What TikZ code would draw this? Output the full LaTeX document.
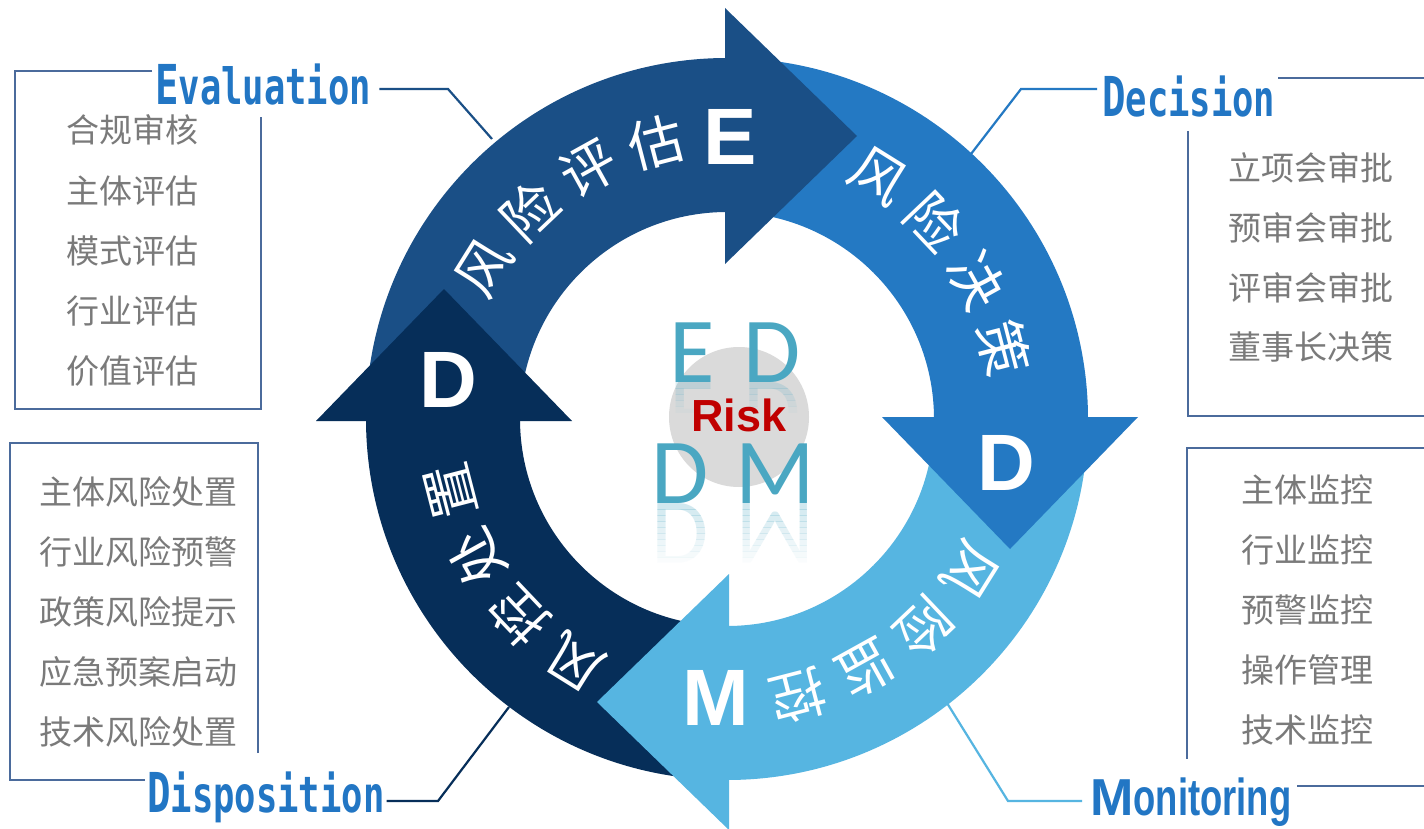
\documentclass[tikz,border=0pt]{standalone}
\usepackage{graphicx}
\usepackage{fontspec}
\setmainfont{Liberation Sans}
\newfontfamily\cjk{Noto Sans CJK SC}
\newfontfamily\monof{DejaVu Sans Mono}
\newfontfamily\carl{Carlito}
\definecolor{cE}{HTML}{1A4F86}
\definecolor{cDec}{HTML}{2479C3}
\definecolor{cMon}{HTML}{56B5E1}
\definecolor{cDis}{HTML}{062E59}
\definecolor{lblblue}{HTML}{2276C4}
\definecolor{boxblue}{HTML}{4B6B9C}
\definecolor{listgrey}{HTML}{7A7A7A}
\definecolor{teal}{HTML}{4AA7C2}
\definecolor{circgrey}{HTML}{DADADA}
\definecolor{riskred}{HTML}{C00000}
\begin{document}
\begin{tikzpicture}[x=1pt,y=-1pt,
  ringtxt/.style={text=white, font=\cjk\fontsize{55}{55}\selectfont, inner sep=0pt},
  bigletter/.style={text=white, font=\bfseries\fontsize{80}{80}\selectfont, inner sep=0pt},
  listtxt/.style={text=listgrey, font=\cjk\fontsize{33}{40}\selectfont, inner sep=0pt, anchor=west},
  boxline/.style={draw=boxblue, line width=2pt},
  lbl/.style={text=lblblue, inner sep=0pt, anchor=base west},
  conn/.style={line width=2.2pt},
  ctr/.style={text=teal, font=\carl\fontsize{93}{93}\selectfont, inner sep=0pt}
]
\useasboundingbox (0,0) rectangle (1424,829);
\fill[white] (0,0) rectangle (1424,829);

% ---------- side labels ----------
\node[lbl, font=\monof\bfseries] (evalLbl) at (155,105)
  {\scalebox{0.71}[1]{\fontsize{55}{55}\selectfont E\fontsize{50}{50}\selectfont valuation}};
\node[lbl, font=\monof\bfseries] (decLbl) at (1102,117)
  {\scalebox{0.71}[1]{\fontsize{55}{55}\selectfont D\fontsize{50}{50}\selectfont ecision}};
\node[lbl, font=\monof\bfseries] (disLbl) at (147,812)
  {\scalebox{0.71}[1]{\fontsize{55}{55}\selectfont D\fontsize{50}{50}\selectfont isposition}};
\node[lbl, font=\bfseries\fontsize{52}{52}\selectfont] (monLbl) at (1090,815)
  {M\scalebox{0.7}[1]{onitoring}};

% ---------- connectors ----------
\coordinate (eBend) at (448,89);  \coordinate (eRing) at (492,139);
\coordinate (dBend) at (1021,89); \coordinate (dRing) at (971,154);
\coordinate (mBend) at (1008,801); \coordinate (mRing) at (947,703);
\coordinate (sBend) at (438,801); \coordinate (sRing) at (509,707);
\draw[conn, cE] ([xshift=8pt]evalLbl.east |- eBend) -- (eBend) -- (eRing);
\draw[conn, cDec] ([xshift=-5pt]decLbl.west |- dBend) -- (dBend) -- (dRing);
\draw[conn, cMon] ([xshift=-8pt]monLbl.west |- mBend) -- (mBend) -- (mRing);
\draw[conn, cDis] ([xshift=2pt]disLbl.east |- sBend) -- (sBend) -- (sRing);

% ---------- frames ----------
\draw[boxline] (152,71) -- (15,71) -- (15,409) -- (261,409) -- (261,117);
\draw[boxline] (1424,78) -- (1278,78);
\draw[boxline] (1188,131) -- (1188,416) -- (1424,416);
\draw[boxline] (258,753) -- (258,443) -- (10,443) -- (10,780) -- (145,780);
\draw[boxline] (1424,448) -- (1187,448) -- (1187,759);
\draw[boxline] (1297,786) -- (1424,786);

% ---------- lists ----------
\node[listtxt] (e1) at (66,130) {合规审核};
\node[listtxt] (e2) at (66,191) {主体评估};
\node[listtxt] (e3) at (66,251) {模式评估};
\node[listtxt] (e4) at (66,311) {行业评估};
\node[listtxt] (e5) at (66,371) {价值评估};
\node[listtxt] (d1) at (1228,168) {立项会审批};
\node[listtxt] (d2) at (1228,228) {预审会审批};
\node[listtxt] (d3) at (1228,288) {评审会审批};
\node[listtxt] (d4) at (1228,347) {董事长决策};
\node[listtxt] (s1) at (39,492) {主体风险处置};
\node[listtxt] (s2) at (39,552) {行业风险预警};
\node[listtxt] (s3) at (39,612) {政策风险提示};
\node[listtxt] (s4) at (39,672) {应急预案启动};
\node[listtxt] (s5) at (39,732) {技术风险处置};
\node[listtxt] (m1) at (1241,490) {主体监控};
\node[listtxt] (m2) at (1241,550) {行业监控};
\node[listtxt] (m3) at (1241,610) {预警监控};
\node[listtxt] (m4) at (1241,670) {操作管理};
\node[listtxt] (m5) at (1241,730) {技术监控};

% ---------- ring ----------
\begin{scope}[shift={(727,419)}, yscale=-1]
  \fill[cE] (180:361) arc[start angle=180,end angle=90,radius=361] -- (90:207) arc[start angle=90,end angle=180,radius=207] -- cycle;
  \fill[cDec] (90:361) arc[start angle=90,end angle=0,radius=361] -- (0:207) arc[start angle=0,end angle=90,radius=207] -- cycle;
  \fill[cMon] (0:361) arc[start angle=0,end angle=-90,radius=361] -- (-90:207) arc[start angle=-90,end angle=0,radius=207] -- cycle;
  \fill[cDis] (-90:361) arc[start angle=-90,end angle=-180,radius=361] -- (-180:207) arc[start angle=-180,end angle=-90,radius=207] -- cycle;
  \foreach \r/\c in {0/cE,-270/cDec,-180/cMon,-90/cDis}
    \fill[\c, rotate=\r] (-2,155) -- (-2,411) -- (130,283) -- cycle;
  \foreach \a/\ch in {148/风,133.5/险,119/评,104.5/估,
                      58/风,43.5/险,29/决,14.5/策,
                      -32/风,-46.5/险,-61/监,-75.5/控,
                      -122/风,-136.5/控,-151/处,-165.5/置}
    \node[ringtxt, rotate=\a-90] at (\a:286) {\ch};
\end{scope}

\node[bigletter] (hE) at (730,137) {E};
\node[bigletter] (hD1) at (1006,463) {D};
\node[bigletter] (hM) at (716,698) {M};
\node[bigletter] (hD2) at (448,380) {D};

% ---------- centre ----------
\fill[circgrey] (739,417) circle[radius=70];
\node[ctr, anchor=base] (cEl) at (692,382) {E};
\node[ctr, anchor=base] (cDl) at (772,382) {D};
\node[ctr, anchor=base] (cD2l) at (680,503) {D};
\node[ctr, anchor=base] (cMl) at (775,503) {M};
\foreach \k in {0,...,4} {
  \pgfmathsetmacro\op{0.2*(1-\k/5)}
  \begin{scope}
    \clip (640,382+6*\k) rectangle (830,388+6*\k);
    \node[ctr, opacity=\op, anchor=base] at (692,382) {\scalebox{1}[-1]{E}};
    \node[ctr, opacity=\op, anchor=base] at (772,382) {\scalebox{1}[-1]{D}};
  \end{scope}
}
\foreach \k in {0,...,9} {
  \pgfmathsetmacro\op{0.25*(1-\k/10)}
  \begin{scope}
    \clip (640,503+6*\k) rectangle (830,509+6*\k);
    \node[ctr, opacity=\op, anchor=base] at (680,503) {\scalebox{1}[-1]{D}};
    \node[ctr, opacity=\op, anchor=base] at (775,503) {\scalebox{1}[-1]{M}};
  \end{scope}
}
\node[text=riskred, font=\bfseries\fontsize{45}{45}\selectfont, inner sep=0pt] (risk) at (739,415) {Risk};
\end{tikzpicture}
\end{document}
